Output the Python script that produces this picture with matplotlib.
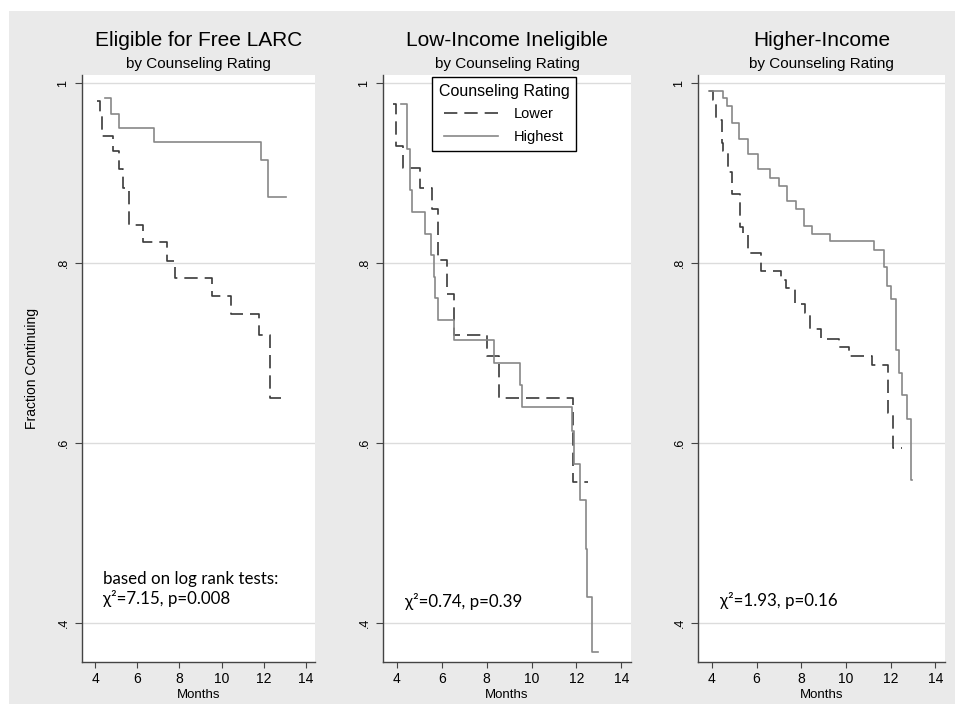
import matplotlib
matplotlib.use('Agg')
import matplotlib.pyplot as plt
from matplotlib.patches import Rectangle

plt.rcParams['font.family'] = ['Liberation Sans', 'DejaVu Sans']

# ---- data (months, fraction continuing) ----
titles = ['Eligible for Free LARC', 'Low-Income Ineligible', 'Higher-Income']
subtitle = 'by Counseling Rating'
stats = ['based on log rank tests:\nχ²=7.15, p=0.008', 'χ²=0.74, p=0.39', 'χ²=1.93, p=0.16']

elig_lower_t = [4.08, 4.24, 4.31, 4.87, 5.12, 5.34, 5.63, 6.29, 7.40, 7.80, 9.54, 10.44, 11.76, 12.31, 12.82]
elig_lower_s = [0.980, 0.963, 0.941, 0.924, 0.904, 0.883, 0.842, 0.823, 0.802, 0.783, 0.763, 0.743, 0.720, 0.650, 0.650]
elig_high_t = [4.47, 4.74, 5.12, 6.81, 11.88, 12.20, 13.04]
elig_high_s = [0.983, 0.966, 0.950, 0.934, 0.914, 0.873, 0.873]

low_lower_t = [3.82, 3.97, 4.27, 5.04, 5.56, 5.83, 6.23, 6.53, 8.02, 8.55, 11.84, 12.51]
low_lower_s = [0.977, 0.930, 0.906, 0.883, 0.860, 0.803, 0.766, 0.720, 0.697, 0.650, 0.557, 0.557]
low_high_t = [4.18, 4.45, 4.59, 4.67, 5.26, 5.52, 5.64, 5.71, 5.83, 6.56, 8.34, 9.50, 9.58,
              11.81, 11.89, 12.15, 12.41, 12.45, 12.70, 12.97]
low_high_s = [0.977, 0.927, 0.881, 0.857, 0.832, 0.809, 0.785, 0.761, 0.737, 0.714, 0.689, 0.665, 0.640,
              0.613, 0.577, 0.537, 0.482, 0.429, 0.368, 0.368]

hi_lower_t = [3.85, 4.07, 4.19, 4.44, 4.49, 4.74, 4.89, 5.26, 5.41, 5.63, 6.22, 7.11, 7.33, 7.70,
              8.15, 8.37, 8.89, 9.67, 10.15, 11.15, 11.90, 12.10, 12.52]
hi_lower_s = [0.991, 0.981, 0.959, 0.933, 0.924, 0.901, 0.877, 0.840, 0.831, 0.811, 0.791, 0.781, 0.772,
              0.754, 0.744, 0.727, 0.716, 0.707, 0.697, 0.687, 0.633, 0.594, 0.594]
hi_high_t = [3.85, 4.52, 4.66, 4.89, 5.23, 5.63, 6.07, 6.62, 7.01, 7.38, 7.75, 8.12, 8.49, 9.30,
             11.26, 11.70, 11.85, 12.03, 12.25, 12.37, 12.49, 12.74, 12.89, 12.96]
hi_high_s = [0.991, 0.983, 0.974, 0.956, 0.938, 0.921, 0.904, 0.894, 0.886, 0.869, 0.860, 0.841, 0.832, 0.824,
             0.814, 0.796, 0.774, 0.760, 0.703, 0.678, 0.653, 0.627, 0.559, 0.559]

x_ticks = [4, 6, 8, 10, 12, 14]
y_ticks = [0.4, 0.6, 0.8, 1.0]
y_tick_labels = ['.4', '.6', '.8', '1']

series = [
    ((elig_lower_t, elig_lower_s), (elig_high_t, elig_high_s)),
    ((low_lower_t, low_lower_s), (low_high_t, low_high_s)),
    ((hi_lower_t, hi_lower_s), (hi_high_t, hi_high_s)),
]

# ---- layout (pixels) ----
W, H = 955, 704
fig = plt.figure(figsize=(W / 100, H / 100), dpi=100)
fig.patch.set_facecolor('white')
fig.patches.append(Rectangle((9 / W, 0), 1 - 9 / W, 1 - 11 / H, transform=fig.transFigure,
                             facecolor='#eaeaea', edgecolor='none', zorder=-10))

panels_px = [(82, 315), (383, 631), (698, 945)]
top_px, bottom_px = 75, 662
text_pos = [(4.38, 0.438), (4.37, 0.4235), (4.37, 0.4245)]

lower_color = '#3a3a3a'
high_color = '#878787'

for i, (left, right) in enumerate(panels_px):
    ax = fig.add_axes([left / W, 1 - bottom_px / H, (right - left) / W, (bottom_px - top_px) / H])
    ax.set_zorder(1)
    ax.set_facecolor('white')
    ax.set_xlim(3.38, 14.43)
    ax.set_ylim(0.3567, 1.0089)
    for s in ['top', 'right']:
        ax.spines[s].set_visible(False)
    for s in ['left', 'bottom']:
        ax.spines[s].set_color('#444444')
        ax.spines[s].set_linewidth(1.0)
    ax.set_yticks(y_ticks)
    ax.set_yticklabels(y_tick_labels, rotation=90, va='center', fontsize=9)
    ax.set_xticks(x_ticks)
    ax.tick_params(axis='x', labelsize=10, length=4, width=0.8, color='#444444', pad=3)
    ax.tick_params(axis='y', length=5, width=0.8, color='#444444', pad=4)
    ax.grid(axis='y', color='#dcdcdc', linewidth=1.0)
    ax.set_axisbelow(True)
    ax.set_xlabel('Months', fontsize=9.5, labelpad=2.5)

    (lt, ls), (ht, hs) = series[i]
    ax.step(lt, ls, where='post', color=lower_color, linewidth=1.2, dashes=(8, 4.2), label='Lower')
    ax.step(ht, hs, where='post', color=high_color, linewidth=1.2, label='Highest')

    ax.text(text_pos[i][0], text_pos[i][1], stats[i], fontsize=12.2, va='center', ha='left',
            family=['Lato', 'Open Sans', 'DejaVu Sans'], linespacing=1.2)

    cx = (left + right) / 2
    fig.text(cx / W, 1 - 40 / H, titles[i], ha='center', va='center', fontsize=15)
    fig.text(cx / W, 1 - 64 / H, subtitle, ha='center', va='center', fontsize=11)

    if i == 0:
        ax.set_ylabel('Fraction Continuing', fontsize=10)
        ax.yaxis.set_label_coords(-0.183, 0.5)
    if i == 1:
        leg = ax.legend(title='Counseling Rating', loc='upper left',
                        bbox_to_anchor=(432 / W, 1 - 77 / H), bbox_transform=fig.transFigure,
                        borderaxespad=0, fontsize=10.5, title_fontsize=11.5, fancybox=False,
                        framealpha=1, edgecolor='black', handlelength=3.7, handletextpad=1.1,
                        borderpad=0.45, labelspacing=0.6)
        leg.get_frame().set_linewidth(1.0)

plt.savefig('out.png', dpi=100)
